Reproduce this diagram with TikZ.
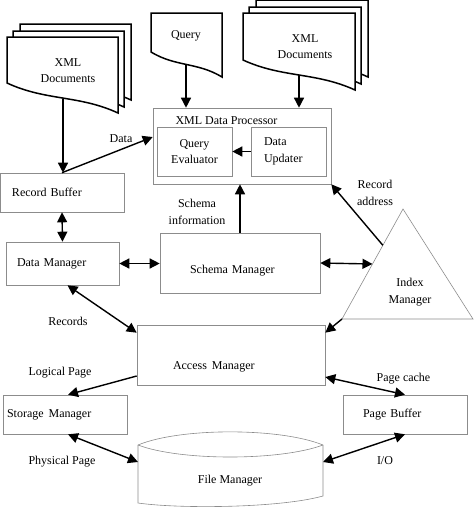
\documentclass[tikz,border=0pt]{standalone}
\usepackage{fontspec}
\setmainfont{Liberation Serif}
\usetikzlibrary{arrows.meta,positioning,calc}

% one page of a document stack: x, y, width, left drop, right drop
\newcommand{\docpage}[5]{%
  \draw[doc] (#1,#2) -- ({#1+#3},#2) -- ({#1+#3},{#2+#5})
    .. controls ({#1+0.65*#3},{#2+#4+0.4*(#5-#4)}) and ({#1+0.35*#3},{#2+#4+0.6*(#5-#4)}) .. (#1,{#2+#4}) -- cycle;}

\begin{document}
\begin{tikzpicture}[x=1pt, y=-1pt, font=\fontsize{12}{16.5}\selectfont,
  doc/.style={draw, line width=1.5pt, fill=white},
  box/.style={draw=black!45, line width=0.6pt, align=left},
  arrow/.style={-{Triangle[length=10pt,width=10pt]}, line width=1.4pt},
  darrow/.style={{Triangle[length=10pt,width=10pt]}-{Triangle[length=10pt,width=10pt]}, line width=1.4pt}
]
\useasboundingbox (0,0) rectangle (474,507);

% input documents
\foreach \d in {13,6,0} {\docpage{7+\d}{37-\d}{111}{46}{76}}
\docpage{151}{13}{71}{39}{64}
\foreach \d in {13,6,0} {\docpage{243+\d}{13-\d}{112}{47}{77}}
\node[align=center] (xmlA) at (68,70.5) {XML\\Documents};
\node (query) at (186,36) {Query};
\node[align=center] (xmlB) at (305,46.5) {XML\\Documents};
\coordinate (xmlAbot) at (63,99);
\coordinate (querybot) at (186,64);
\coordinate (xmlBbot) at (299,75);

% processor
\node[box, minimum width=178pt, minimum height=76pt] (xproc) at (242,146) {};
\node (xproctitle) at (226.5,121) {XML Data Processor};
\node[box, align=center, minimum width=75pt, minimum height=49pt] (qeval) at (194.5,151.5) {Query\\Evaluator};
\node[box, text width=49pt, inner xsep=13pt, minimum height=49pt] (dupd) at (288.5,151.5) {Data\\Updater};

% managers
\node[box, text width=100pt, inner xsep=12pt, minimum height=39pt] (recbuf) at (62,192.5) {Record Buffer};
\node[box, text width=91pt, inner xsep=11pt, minimum height=43pt] (dataman) at (62.5,263.5) {Data Manager};
\node[box, text width=100pt, inner xsep=30pt, minimum height=60pt, text height=24pt] (schema) at (240,263) {Schema Manager};
\node[box, text width=116pt, inner xsep=36pt, minimum height=60pt, text height=31pt] (access) at (231,355) {Access\hspace{5pt}Manager};
\node[box, text width=116pt, inner xsep=4pt, minimum height=39pt] (storage) at (65,414.5) {Storage\hspace{5pt}Manager};
\node[box, text width=84pt, inner xsep=20pt, minimum height=39pt] (pbuf) at (405,414.5) {Page Buffer};

% index manager
\draw[box] (403,209) coordinate (iapex) -- (473,319) coordinate (iright) -- (342,319) coordinate (ileft) -- cycle;
\node[align=center] (index) at (410,292) {Index\\Manager};
\coordinate (iedge) at ($(iapex)!0.5!(ileft)$);
\coordinate (iaddr) at ($(iapex)!0.33!(ileft)$);

% file manager
\draw[box] (138,445) .. controls (180,427.5) and (280,427.5) .. (323,445)
  -- (323,496) .. controls (280,508) and (180,509) .. (138,503) -- cycle;
\draw[box] (138,445) .. controls (180,461) and (280,461) .. (323,445);
\node (fileman) at (230,481) {File Manager};
\coordinate (fmleft) at (138,462);
\coordinate (fmright) at (323,462);

% connectors
\draw[arrow] (xmlAbot) -- (xmlAbot |- recbuf.north);
\draw[arrow] (querybot) -- (querybot |- xproc.north);
\draw[arrow] (xmlBbot) -- (xmlBbot |- xproc.north);
\draw[arrow] (recbuf.north) -- ([yshift=9pt]xproc.west);
\draw[arrow] (dupd.west) -- (qeval.east);
\draw[darrow] (recbuf.south) -- (dataman.north);
\draw[darrow] (dataman.east) -- (dataman.east -| schema.west);
\draw[arrow] (schema.north) -- (schema.north |- xproc.south);
\draw[darrow] (schema.east) -- (iedge);
\draw[arrow] (iaddr) -- (xproc.south east);
\draw[arrow] (ileft) -- ([yshift=-8pt]access.north east);
\draw[darrow] ([xshift=5pt]dataman.south) -- ([yshift=-8pt]access.north west);
\draw[arrow] ([yshift=-21pt]access.west) -- ([xshift=3pt]storage.north);
\draw[darrow] ([xshift=3pt]storage.south) -- (fmleft);
\draw[darrow] ([yshift=-22pt]access.east) -- (pbuf.north);
\draw[darrow] (pbuf.south) -- (fmright);

% labels
\node (datalbl) at (121,139) {Data};
\node[align=center] (schemalbl) at (197,212) {Schema\\information};
\node[align=center] (addrlbl) at (375,193) {Record\\address};
\node (recslbl) at (68,321) {Records};
\node (logiclbl) at (60,373) {Logical Page};
\node (physlbl) at (62,462) {Physical Page};
\node (cachelbl) at (403.5,379) {Page cache};
\node (iolbl) at (385,461) {I/O};
\end{tikzpicture}
\end{document}
